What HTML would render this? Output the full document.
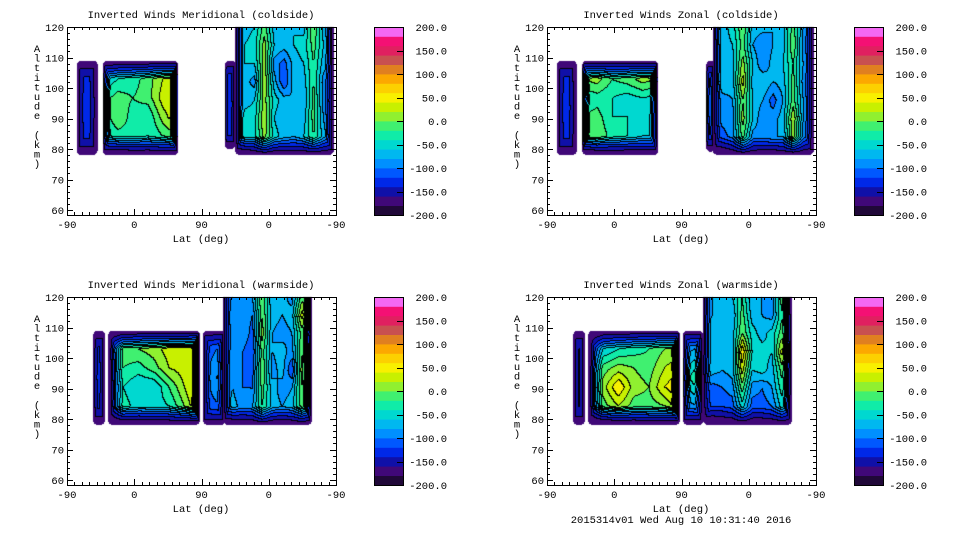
<!DOCTYPE html>
<html><head><meta charset="utf-8">
<style>
html,body{margin:0;padding:0;background:#fff;}
#wrap{position:relative;width:960px;height:540px;overflow:hidden;background:#fff;}
canvas,svg{position:absolute;left:0;top:0;}
text{font-family:"Liberation Mono",monospace;font-size:10.5px;fill:#000;}
</style></head>
<body>
<div id="wrap">
<canvas id="cv" width="960" height="540"></canvas>
<svg id="sv" width="960" height="540" xmlns="http://www.w3.org/2000/svg"></svg>
</div>
<script>
// ---- data (m/s), rows top(high alt) -> bottom, columns along track ----
const titles = ["Inverted Winds Meridional (coldside)","Inverted Winds Zonal (coldside)","Inverted Winds Meridional (warmside)","Inverted Winds Zonal (warmside)"];
const xTickLabels = ["-90","0","90","0","-90"];
const yTickValues = [60,70,80,90,100,110,120];
const cbarValues = [200,150,100,50,0,-50,-100,-150,-200];
const bandColors = ["#200838","#400878","#1010a8","#0028e8","#0058ff","#0090ff","#00b8f0","#00d8d0","#10eca8","#40f070","#90f030","#c8f000","#f8f000","#fcd000","#fca800","#e08020","#c85050","#e02060","#f41074","#f468f4"];

const tlA = [[-140,-140],[-130,-130],[-140,-140]];
const tlB = [[-150,-130,-120,-120,-110,-110],[-60,-40,-30,-10,20,30],[-30,-10,-20,-10,30,40],[-40,0,-30,-40,10,40],[-50,-30,-30,-40,-20,0],[-150,-140,-130,-130,-130,-130]];
const tlC1 = [[-130],[-120],[-130]];
const tlC2 = [[-110,-70,-60,-10,-70,-70,-60,-70,0,-70,-90],[-120,-60,-50,10,-60,-70,-60,-50,-10,-60,-80],[-120,-60,-60,10,-90,-110,-70,-60,-20,-70,-90],[-110,-70,-90,20,-70,-120,-70,-70,-20,-90,-110],[-110,-70,-60,10,-50,-70,-80,-80,-10,-90,-120],[-110,-50,-50,20,-60,-80,-80,-70,-10,-80,-120],[-110,-50,-50,10,-50,-70,-80,-60,-20,-70,-110],[-150,-140,-120,-50,-110,-110,-110,-110,-70,-110,-120]];

const trA = [[-140,-140],[-130,-130],[-140,-140]];
const trB = [[-120,-110,-110,-110,-100,-100],[0,10,-20,-10,10,0],[-40,-30,-40,-50,-40,-50],[-20,-10,-40,-40,-60,-60],[-10,0,-30,-40,-60,-60],[-150,-140,-130,-130,-130,-130]];
const trC1 = [[-130],[-100],[-130]];
const trC2 = [[-100,-70,-50,0,-70,-70,-80,-70,-10,-80,-110],[-110,-70,-60,-10,-80,-100,-80,-70,0,-90,-110],[-120,-70,-70,10,-60,-100,-70,-60,-20,-80,-110],[-120,-60,-70,30,-70,-60,-80,-70,-10,-90,-110],[-120,-90,-80,0,-60,-80,-110,-80,-10,-80,-120],[-120,-90,-90,10,-60,-100,-90,-70,20,-80,-120],[-130,-110,-90,-10,-90,-90,-80,-80,10,-90,-120],[-160,-150,-120,-50,-110,-120,-120,-110,-60,-120,-140]];

const blA = [[-140],[-130],[-140]];
const blB = [[-160,-130,-120,-110,-110,-110,-100],[-170,-10,0,10,30,30,40],[-170,-20,-30,-10,20,30,50],[-170,-40,-60,-60,-20,20,60],[-170,-30,-50,-50,-40,0,50],[-170,-140,-140,-130,-130,-130,-120]];
const blC1 = [[-120,-110],[-110,-60],[-120,-120]];
const blC2 = [[-110,-100,-80,-80,0,-80,-70,-90,-10,-20],[-120,-80,-80,-100,0,-70,-80,-70,30,-30],[-110,-90,-80,-110,10,-80,-90,-80,-10,-80],[-100,-90,-100,-120,-10,-80,-70,-90,0,-70],[-100,-80,-100,-110,0,-90,-70,-120,10,-70],[-100,-80,-100,-100,-10,-70,-90,-80,0,-60],[-110,-70,-90,-80,-20,-70,-80,-70,-10,-70],[-150,-140,-130,-130,-70,-120,-120,-120,-90,-120]];

const brA = [[-140],[-140],[-140]];
const brB = [[-170,-130,-120,-110,-110,-100,-100],[-170,-60,-40,-30,-20,0,0],[-170,-10,10,0,-10,20,40],[-170,10,60,10,0,40,60],[-170,-10,20,-10,-10,0,40],[-170,-150,-140,-140,-130,-130,-130]];
const brC1 = [[-120,-110],[-60,0],[-120,-120]];
const brC2 = [[-100,-80,-70,-60,-20,-80,-80,-90,-10,-110],[-90,-80,-70,-80,-10,-70,-80,-90,-20,-100],[-80,-70,-60,-70,0,-50,-70,-50,-10,-90],[-70,-80,-70,-80,60,-40,-50,-60,30,-80],[-60,-70,-80,-70,30,-60,-50,-70,-10,-80],[-90,-110,-100,-90,-10,-90,-100,-80,-30,-90],[-110,-120,-120,-110,-50,-110,-110,-100,-50,-110],[-160,-160,-150,-140,-100,-140,-140,-130,-110,-140]];

// block extents: track position u (0..360 = -90..0..90..0..-90), altitude km
const blocksTL = [{u0:13,u1:41,a0:78,a1:109,g:tlA},{u0:48,u1:149,a0:78,a1:109,g:tlB},{u0:211,u1:226,a0:80,a1:109,g:tlC1},{u0:225,u1:357,a0:78,a1:120,g:tlC2,open:true}];
const blocksTR = [{u0:13,u1:40,a0:78,a1:109,g:trA},{u0:47,u1:149,a0:78,a1:109,g:trB},{u0:213,u1:225,a0:79,a1:109,g:trC1},{u0:222,u1:357,a0:78,a1:120,g:trC2,open:true}];
const blocksBL = [{u0:35,u1:51,a0:78,a1:109,g:blA},{u0:55,u1:178,a0:78,a1:109,g:blB},{u0:182,u1:212,a0:78,a1:109,g:blC1},{u0:209,u1:328,a0:78,a1:120,g:blC2,open:true}];
const blocksBR = [{u0:35,u1:51,a0:78,a1:109,g:brA},{u0:55,u1:178,a0:78,a1:109,g:brB},{u0:182,u1:209,a0:78,a1:109,g:brC1},{u0:209,u1:328,a0:78,a1:120,g:brC2,open:true}];

const EDGE = -178;
const panels = [{ox:0,oy:0,b:blocksTL},{ox:480,oy:0,b:blocksTR},{ox:0,oy:270,b:blocksBL},{ox:480,oy:270,b:blocksBR}];

// ---- axis functions ----
const PX0=67, PX1=336, PY0=27, PY1=215;
function xU(u,ox){return ox+PX0+u*(PX1-PX0)/360;}
function yA(a,oy){return oy+PY0+(120-a)*3.05;}
function band(v){let i=Math.floor((v+200)/20);return Math.max(0,Math.min(19,i));}
function hex(c){return [parseInt(c.substr(1,2),16),parseInt(c.substr(3,2),16),parseInt(c.substr(5,2),16)];}
const rgb = bandColors.map(hex);

const cv=document.getElementById('cv');const ctx=cv.getContext('2d');
const W=960,H=540;const bands=new Int8Array(W*H).fill(-1);
const FX=8, FY=18, RAD=5;
panels.forEach(p=>{
  p.b.forEach(bk=>{
    const G=bk.g;const R=G.length,C=G[0].length;
    const x0=xU(bk.u0,p.ox),x1=xU(bk.u1,p.ox),y0=yA(bk.a1,p.oy),y1=yA(bk.a0,p.oy);
    const fxl=Math.min(FX,(x1-x0)/2.2);
    for(let y=Math.round(y0);y<Math.round(y1);y++){
      for(let x=Math.round(x0);x<Math.round(x1);x++){
        const dx=Math.min(x+0.5-x0,x1-x-0.5);
        const dyT=bk.open?1e9:(y+0.5-y0);
        const dy=Math.min(dyT,y1-y-0.5);
        if(dx<RAD&&dy<RAD){const cx=RAD-dx,cy=RAD-dy;if(cx*cx+cy*cy>RAD*RAD)continue;}
        const fx=C>1?Math.min(C-1,Math.max(0,(x+0.5-x0)/(x1-x0)*(C-1))):0;
        const fy=R>1?Math.min(R-1,Math.max(0,(y+0.5-y0)/(y1-y0)*(R-1))):0;
        const i0=Math.max(0,Math.min(C-2,Math.floor(fx))),j0=Math.max(0,Math.min(R-2,Math.floor(fy)));
        const i1=Math.min(C-1,i0+1),j1=Math.min(R-1,j0+1);
        const tx=C>1?fx-i0:0,ty=R>1?fy-j0:0;
        let v=G[j0][i0]*(1-tx)*(1-ty)+G[j0][i1]*tx*(1-ty)+G[j1][i0]*(1-tx)*ty+G[j1][i1]*tx*ty;
        const t=Math.max(0,Math.min(1,dx/fxl,dy/FY));
        v=EDGE+(v-EDGE)*t;
        bands[y*W+x]=band(v);
      }
    }
  });
});
const img=ctx.createImageData(W,H);
for(let i=0;i<W*H;i++){
  let r=255,g=255,b=255;const bd=bands[i];
  if(bd>=0){
    const x=i%W;const rt=x<W-1?bands[i+1]:-1;const dn=i+W<W*H?bands[i+W]:-1;
    if((rt>=0&&rt!==bd)||(dn>=0&&dn!==bd)){r=g=b=0;}
    else{[r,g,b]=rgb[bd];}
  }
  img.data[i*4]=r;img.data[i*4+1]=g;img.data[i*4+2]=b;img.data[i*4+3]=255;
}
ctx.putImageData(img,0,0);

// ---- axes / text ----
const sv=document.getElementById('sv');const NS='http://www.w3.org/2000/svg';
function el(tag,attrs,parent){const e=document.createElementNS(NS,tag);for(const k in attrs)e.setAttribute(k,attrs[k]);(parent||sv).appendChild(e);return e;}
const panelNames=['meridional-coldside','zonal-coldside','meridional-warmside','zonal-warmside'];
panels.forEach((p,pi)=>{
  const g=el('g',{});
  
  
  const fr=el('rect',{x:p.ox+PX0+0.5,y:p.oy+PY0+0.5,width:PX1-PX0,height:PY1-PY0,fill:'none',stroke:'#000','stroke-width':1},g);
  
  
  let d='';
  for(let u=0;u<=360;u+=10){const x=Math.round(xU(u,p.ox))+0.5;const L=(u%90===0)?6:3;
    d+=`M${x} ${p.oy+PY1}v${-L}M${x} ${p.oy+PY0}v${L}`;}
  for(let a=60;a<=120;a+=2){const y=Math.round(yA(a,p.oy))+0.5;const L=(a%10===0)?6:3;
    d+=`M${p.ox+PX0} ${y}h${L}M${p.ox+PX1} ${y}h${-L}`;}
  const tk=el('path',{d:d,stroke:'#000','stroke-width':1,fill:'none'},g);
  
  
  xTickLabels.forEach((l,i)=>{const t=el('text',{x:xU(i*90,p.ox),y:p.oy+228,'text-anchor':'middle'},g);t.textContent=l;
    
    });
  yTickValues.forEach(a=>{const t=el('text',{x:p.ox+64,y:yA(a,p.oy)+4,'text-anchor':'end'},g);t.textContent=a;
    
    });
  const xt=el('text',{x:p.ox+201,y:p.oy+242,'text-anchor':'middle'},g);xt.textContent='Lat (deg)';
  
  
  const tt=el('text',{x:p.ox+201,y:p.oy+18,'text-anchor':'middle'},g);tt.textContent=titles[pi];
  
  
  const yt=el('text',{x:p.ox+37,y:p.oy+52,'text-anchor':'middle'},g);
  
  
  'Altitude (km)'.split('').forEach((c,i)=>{const s=el('tspan',{x:p.ox+37,y:p.oy+52+i*9.6},yt);s.textContent=c;});
  const cb=el('g',{},g);
  
  
  const cx=p.ox+374,cw=29,cy0=p.oy+PY0,ch=PY1-PY0;
  bandColors.forEach((c,i)=>{const y0=cy0+ch-(i+1)*ch/20;
    const r=el('rect',{x:cx,y:y0,width:cw,height:ch/20+0.4,fill:c},cb);
    
    });
  el('rect',{x:cx+0.5,y:cy0+0.5,width:cw,height:ch,fill:'none',stroke:'#000'},cb);
  cbarValues.forEach(v=>{const y=cy0+(200-v)/400*ch;
    if(v>-200&&v<200) el('path',{d:`M${cx+cw} ${Math.round(y)+0.5}h-6`,stroke:'#000'},cb);
    const t=el('text',{x:p.ox+447,y:y+4,'text-anchor':'end'},cb);t.textContent=v.toFixed(1);
    
    });
});
const ft=el('text',{x:681,y:523,'text-anchor':'middle'});ft.textContent='2015314v01 Wed Aug 10 10:31:40 2016';


</script>
</body></html>
